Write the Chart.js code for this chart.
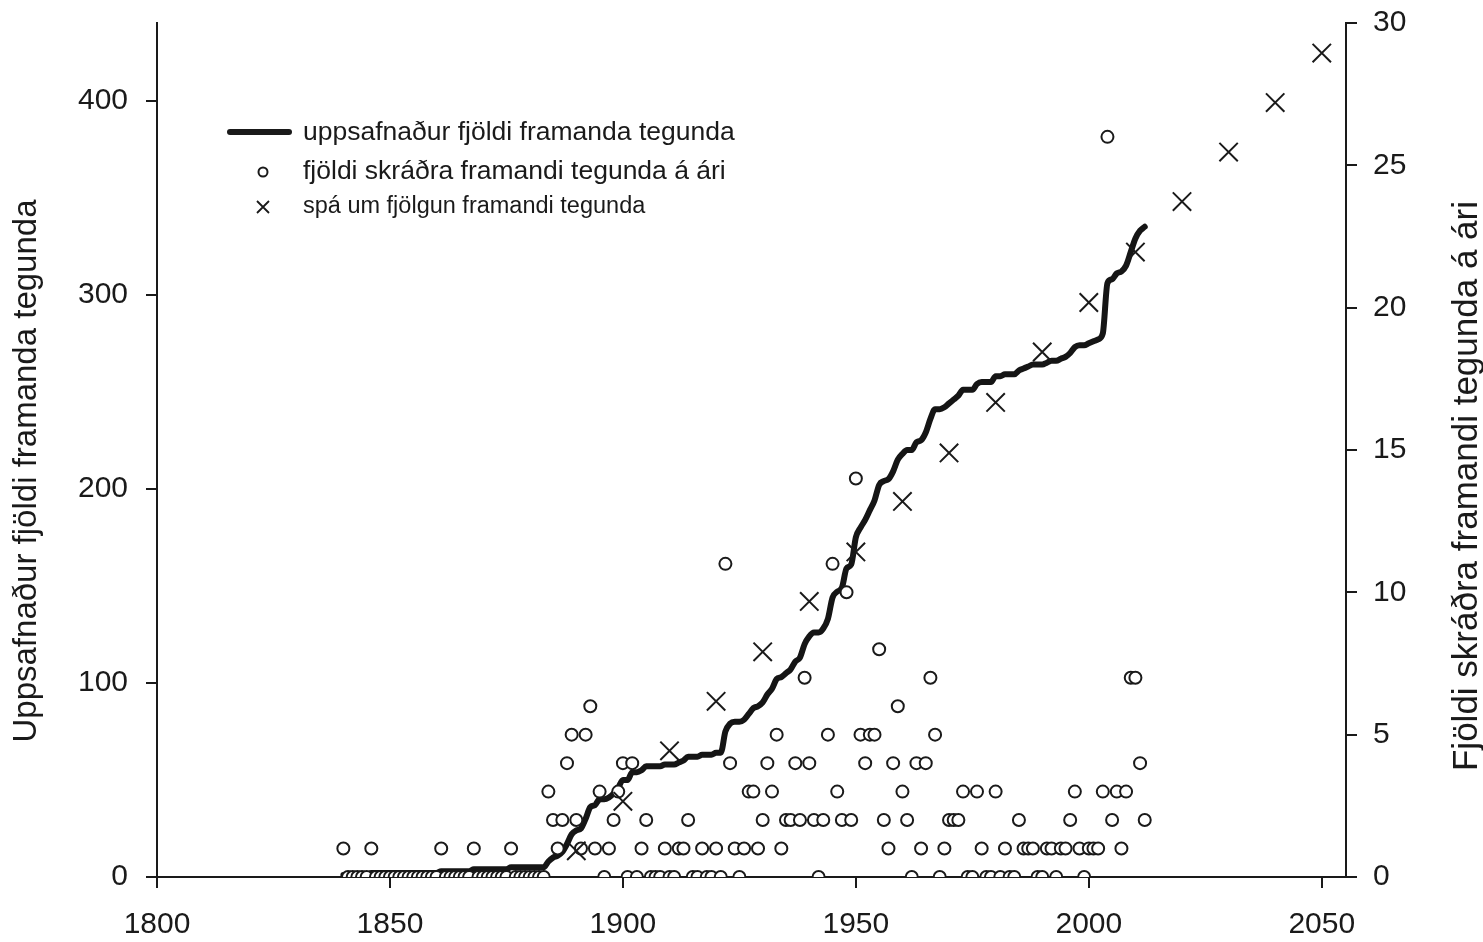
<!DOCTYPE html>
<html>
<head>
<meta charset="utf-8">
<script src="https://cdn.jsdelivr.net/npm/chart.js@4/dist/chart.umd.min.js"></script>
<style>
  html, body { margin: 0; padding: 0; background: #fff; }
  canvas { display: block; }
</style>
</head>
<body>
<canvas id="chart" width="1483" height="942"></canvas>
<script>
// Data
const firstYear = 1840

// recorded alien species per year, 1840 - 2012 (right axis)
const yearlyCounts = [
    1, 0, 0, 0, 0, 0, 1, 0, 0, 0,   // 1840
    0, 0, 0, 0, 0, 0, 0, 0, 0, 0,   // 1850
    0, 1, 0, 0, 0, 0, 0, 0, 1, 0,   // 1860
    0, 0, 0, 0, 0, 0, 1, 0, 0, 0,   // 1870
    0, 0, 0, 0, 3, 2, 1, 2, 4, 5,   // 1880
    2, 1, 5, 6, 1, 3, 0, 1, 2, 3,   // 1890
    4, 0, 4, 0, 1, 2, 0, 0, 0, 1,   // 1900
    0, 0, 1, 1, 2, 0, 0, 1, 0, 0,   // 1910
    1, 0, 11, 4, 1, 0, 1, 3, 3, 1,  // 1920
    2, 4, 3, 5, 1, 2, 2, 4, 2, 7,   // 1930
    4, 2, 0, 2, 5, 11, 3, 2, 10, 2, // 1940
    14, 5, 4, 5, 5, 8, 2, 1, 4, 6,  // 1950
    3, 2, 0, 4, 1, 4, 7, 5, 0, 1,   // 1960
    2, 2, 2, 3, 0, 0, 3, 1, 0, 0,   // 1970
    3, 0, 1, 0, 0, 2, 1, 1, 1, 0,   // 1980
    0, 1, 1, 0, 1, 1, 2, 3, 1, 0,   // 1990
    1, 1, 1, 3, 26, 2, 3, 1, 3, 7,  // 2000
    7, 4, 2                         // 2010
]

// cumulative number of alien species, 1840 - 2012 (left axis)
const cumulativeCounts = [
    1, 1, 1, 1, 1, 1, 2, 2, 2, 2,
    2, 2, 2, 2, 2, 2, 2, 2, 2, 2,
    2, 3, 3, 3, 3, 3, 3, 3, 4, 4,
    4, 4, 4, 4, 4, 4, 5, 5, 5, 5,
    5, 5, 5, 5, 8, 10, 11, 13, 17, 22,
    24, 25, 30, 36, 37, 40, 40, 41, 43, 46,
    50, 50, 54, 54, 55, 57, 57, 57, 57, 58,
    58, 58, 59, 60, 62, 62, 62, 63, 63, 63,
    64, 64, 75, 79, 80, 80, 81, 84, 87, 88,
    90, 94, 97, 102, 103, 105, 107, 111, 113, 120,
    124, 126, 126, 128, 133, 144, 147, 149, 159, 161,
    175, 180, 184, 189, 194, 202, 204, 205, 209, 215,
    218, 220, 220, 224, 225, 229, 236, 241, 241, 242,
    244, 246, 248, 251, 251, 251, 254, 255, 255, 255,
    258, 258, 259, 259, 259, 261, 262, 263, 264, 264,
    264, 265, 266, 266, 267, 268, 270, 273, 274, 274,
    275, 276, 277, 280, 306, 308, 311, 312, 315, 322,
    329, 333, 335
]

// forecast (left axis)
const forecastYears = [1890, 1900, 1910, 1920, 1930, 1940, 1950, 1960, 1970, 1980, 1990, 2000, 2010, 2020, 2030, 2040, 2050]
const forecastValues = [13.5, 39, 65, 90.5, 116, 142, 167.5, 193.5, 218.5, 244.5, 270.5, 296, 322, 348, 373.5, 399, 424.5]

const xTicks = [1800, 1850, 1900, 1950, 2000, 2050]
const leftTicks = [0, 100, 200, 300, 400]
const rightTicks = [0, 5, 10, 15, 20, 25, 30]

const seriesNames = [
    'uppsafnaður fjöldi framanda tegunda',
    'fjöldi skráðra framandi tegunda á ári',
    'spá um fjölgun framandi tegunda'
]
const leftTitle = 'Uppsafnaður fjöldi framanda tegunda'
const rightTitle = 'Fjöldi skráðra framandi tegunda á ári'

const FONT = '"Liberation Sans", Arial, sans-serif'
const INK = '#1a1a1a'

// build point lists
const cumulativePoints = cumulativeCounts.map((v, i) => ({ x: firstYear + i, y: v }))
const yearlyPoints = yearlyCounts.map((v, i) => ({ x: firstYear + i, y: v }))
const forecastPoints = forecastYears.map((yr, i) => ({ x: yr, y: forecastValues[i] }))

function fixedTicks(list) {
    return scale => { scale.ticks = list.map(v => ({ value: v })) }
}

// fixed axis box size, no extra label padding pushing the plot area
function fixedWidth(w) {
    return scale => {
        scale.width = w
        scale.paddingTop = 0
        scale.paddingBottom = 0
    }
}

// legend inside the plot + axis titles
const annotations = {
    id: 'annotations',
    afterDraw(chart) {
        const ctx = chart.ctx
        const sets = chart.data.datasets
        ctx.save()
        ctx.fillStyle = INK
        ctx.strokeStyle = INK
        ctx.textBaseline = 'middle'
        ctx.textAlign = 'left'

        // line sample
        ctx.lineWidth = 6
        ctx.lineCap = 'round'
        ctx.beginPath()
        ctx.moveTo(230, 132)
        ctx.lineTo(289, 132)
        ctx.stroke()
        ctx.font = '26.5px ' + FONT
        ctx.fillText(sets[0].label, 303, 133)

        // circle sample
        ctx.lineWidth = 2
        ctx.beginPath()
        ctx.arc(263, 172, 4.5, 0, Math.PI * 2)
        ctx.stroke()
        ctx.fillText(sets[1].label, 303, 172)

        // cross sample
        ctx.lineWidth = 1.8
        ctx.lineCap = 'butt'
        ctx.beginPath()
        ctx.moveTo(257, 201); ctx.lineTo(269, 213)
        ctx.moveTo(269, 201); ctx.lineTo(257, 213)
        ctx.stroke()
        ctx.font = '23.5px ' + FONT
        ctx.fillText(sets[2].label, 303, 207)

        // axis titles
        ctx.textAlign = 'center'
        ctx.font = '33px ' + FONT
        ctx.save()
        ctx.translate(27, 471)
        ctx.rotate(-Math.PI / 2)
        ctx.fillText(leftTitle, 0, 0)
        ctx.restore()
        ctx.font = '35px ' + FONT
        ctx.save()
        ctx.translate(1467, 486)
        ctx.rotate(-Math.PI / 2)
        ctx.fillText(rightTitle, 0, 0)
        ctx.restore()
        ctx.restore()
    }
}

const axisBorder = { display: true, color: INK, width: 2 }
const axisGrid = { drawOnChartArea: false, drawTicks: true, tickLength: 11, color: INK, lineWidth: 2 }
const tickFont = { family: FONT, size: 30 }
const plainNumber = v => String(v)

new Chart(document.getElementById('chart'), {
    type: 'line',
    data: {
        datasets: [
            {
                label: seriesNames[0],
                data: cumulativePoints,
                yAxisID: 'y',
                borderColor: '#151515',
                borderWidth: 6,
                pointRadius: 0,
                cubicInterpolationMode: 'monotone',
                borderCapStyle: 'round',
                order: 3
            },
            {
                label: seriesNames[1],
                data: yearlyPoints,
                yAxisID: 'y1',
                showLine: false,
                pointStyle: 'circle',
                pointRadius: 6,
                borderWidth: 2,
                borderColor: INK,
                backgroundColor: '#fff',
                order: 2
            },
            {
                label: seriesNames[2],
                data: forecastPoints,
                yAxisID: 'y',
                showLine: false,
                pointStyle: 'crossRot',
                pointRadius: 13,
                borderWidth: 2,
                borderColor: INK,
                order: 1
            }
        ]
    },
    options: {
        responsive: false,
        animation: false,
        devicePixelRatio: 1,
        layout: { padding: { top: 23, left: 0, right: 0, bottom: 0 } },
        plugins: {
            legend: { display: false },
            tooltip: { enabled: false }
        },
        scales: {
            x: {
                type: 'linear',
                min: 1800,
                max: 2055.2,
                border: axisBorder,
                grid: axisGrid,
                ticks: { font: tickFont, color: INK, padding: 19, maxRotation: 0, callback: plainNumber },
                afterBuildTicks: fixedTicks(xTicks),
                afterFit: scale => { scale.height = 65 }
            },
            y: {
                type: 'linear',
                position: 'left',
                min: 0,
                max: 440,
                border: axisBorder,
                grid: axisGrid,
                ticks: { font: tickFont, color: INK, padding: 18, callback: plainNumber },
                afterBuildTicks: fixedTicks(leftTicks),
                afterFit: fixedWidth(157)
            },
            y1: {
                type: 'linear',
                position: 'right',
                min: 0,
                max: 30,
                border: axisBorder,
                grid: axisGrid,
                ticks: { font: tickFont, color: INK, padding: 16, callback: plainNumber },
                afterBuildTicks: fixedTicks(rightTicks),
                afterFit: fixedWidth(137)
            }
        }
    },
    plugins: [annotations]
})
</script>
</body>
</html>
